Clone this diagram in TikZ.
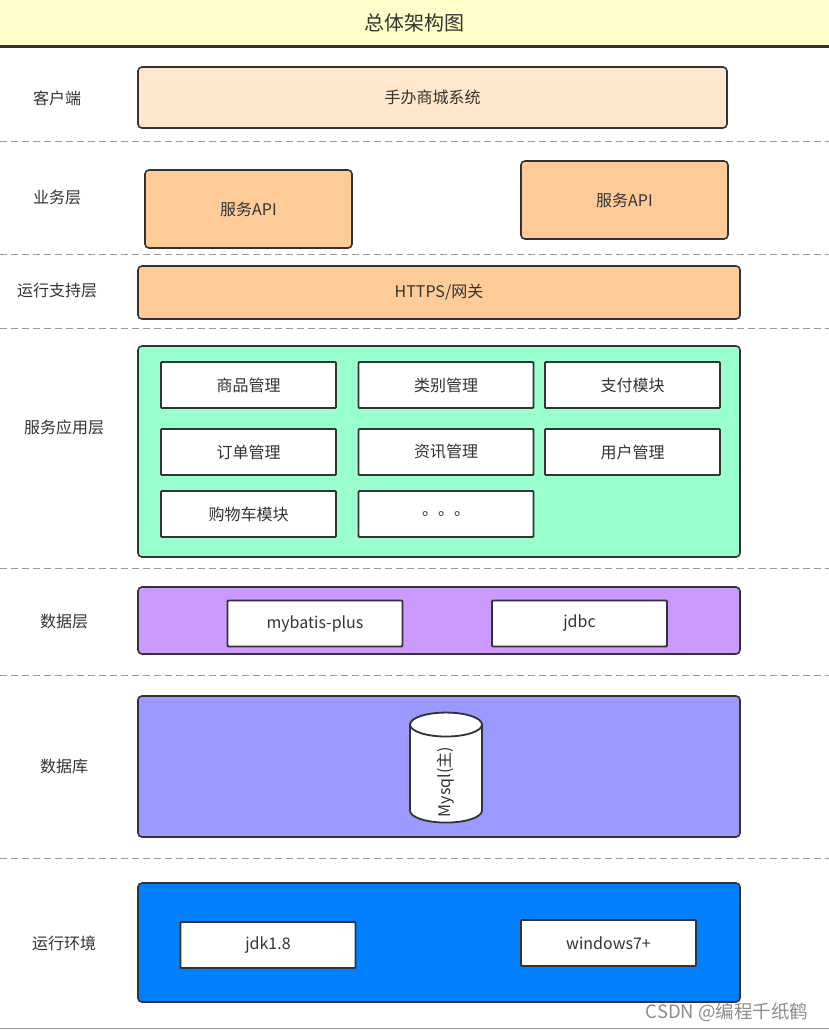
\documentclass[tikz,border=0pt]{standalone}
\usepackage{fontspec}
\setmainfont{Noto Sans CJK SC}
\usetikzlibrary{shapes.geometric}

\definecolor{txt}{HTML}{333333}
\definecolor{edge}{HTML}{333333}
\definecolor{titlebg}{HTML}{FFFFCC}
\definecolor{clientbg}{HTML}{FFE6CC}
\definecolor{apibg}{HTML}{FFCC99}
\definecolor{appbg}{HTML}{99FFCC}
\definecolor{databg}{HTML}{CC99FF}
\definecolor{dbbg}{HTML}{9999FF}
\definecolor{envbg}{HTML}{007FFF}

\begin{document}
\begin{tikzpicture}[x=1pt, y=-1pt, every node/.style={inner sep=0pt, text=txt, font=\fontsize{16}{19}\selectfont},
  layer/.style={draw=edge, line width=1.6pt, rounded corners=4pt},
  item/.style={draw=edge, line width=1.8pt, fill=white, rounded corners=1pt, minimum width=175pt, minimum height=46pt},
  sep/.style={draw=black!40, line width=0.8pt, dash pattern=on 7pt off 4pt}]
  \useasboundingbox (0,0) rectangle (829,1031);
  % title bar
  \fill [titlebg] (0,0) rectangle (829,46);
  \draw [edge, line width=3pt] (0,46.5) -- (829,46.5);
  \node (title) at (414.5,23) {\fontsize{20}{23}\selectfont 总体架构图};
  % separators
  \foreach \y in {141,254,328,568,675,858}
    \draw [sep] (0,\y) -- (829,\y);
  \draw [black!40, line width=0.8pt] (0,1028) -- (829,1028);

  % layer names
  \node (l1) at (57,98) {客户端};
  \node (l2) at (57,197) {业务层};
  \node (l3) at (57,290) {运行支持层};
  \node (l4) at (64,427) {服务应用层};
  \node (l5) at (64,621) {数据层};
  \node (l6) at (64,766) {数据库};
  \node (l7) at (64,943) {运行环境};

  % client
  \node [layer, fill=clientbg, minimum width=589pt, minimum height=61pt] (client) at (432.5,97.5) {手办商城系统};
  % business
  \node [layer, fill=apibg, minimum width=207pt, minimum height=78pt] (api1) at (248.5,209) {服务API};
  \node [layer, fill=apibg, minimum width=207pt, minimum height=78pt] (api2) at (624.5,200) {服务API};
  % gateway
  \node [layer, fill=apibg, minimum width=602pt, minimum height=53pt] (gw) at (439,292.5) {HTTPS/网关};
  % services
  \node [layer, fill=appbg, minimum width=602pt, minimum height=211pt] (app) at (439,451.5) {};
  \node [item] (goods) at (248.5,385) {商品管理};
  \node [item] (cat) at (446,385) {类别管理};
  \node [item] (pay) at (632.5,385) {支付模块};
  \node [item] (order) at (248.5,452) {订单管理};
  \node [item] (news) at (446,452) {资讯管理};
  \node [item] (user) at (632.5,452) {用户管理};
  \node [item] (cart) at (248.5,514) {购物车模块};
  \node [item] (more) at (446,514) {。。。};
  % data
  \node [layer, fill=databg, minimum width=602pt, minimum height=67pt] (data) at (439,620.5) {};
  \node [item] (mp) at (315,623.5) {mybatis-plus};
  \node [item] (jdbc) at (579.5,623.5) {jdbc};
  % database
  \node [layer, fill=dbbg, minimum width=602pt, minimum height=141pt] (db) at (439,766.5) {};
  \node [cylinder, draw=edge, line width=1.8pt, fill=white, rotate=90, aspect=1.4,
    minimum width=72pt, minimum height=110pt] (mysql) at (446,774) {\hspace*{-16pt}Mysql(主)};
  % environment
  \node [layer, fill=envbg, minimum width=602pt, minimum height=119pt] (env) at (439,942.5) {};
  \node [item] (jdk) at (268,945) {jdk1.8};
  \node [item] (win) at (608.5,943) {windows7+};

  \node [text=black!45, font=\fontsize{18.5}{21}\selectfont] (mark) at (727,1012) {CSDN @编程千纸鹤};
\end{tikzpicture}
\end{document}
